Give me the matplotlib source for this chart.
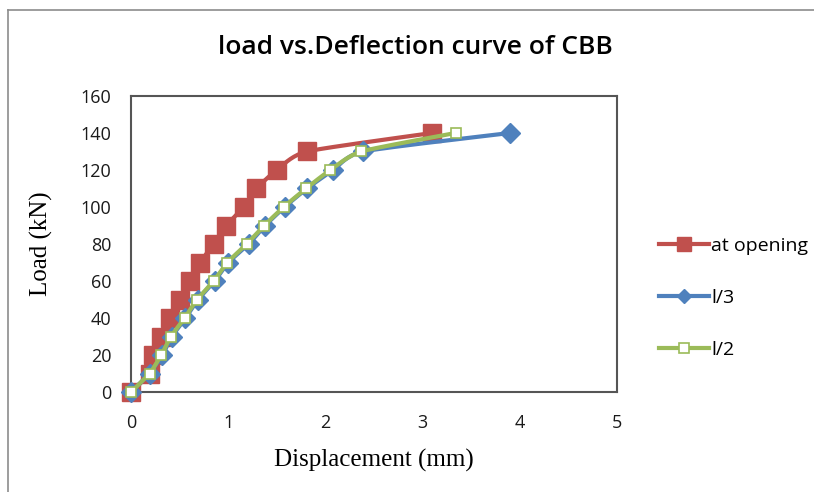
import numpy as np
import matplotlib.pyplot as plt
from matplotlib.lines import Line2D

# Data
load = [0, 10, 20, 30, 40, 50, 60, 70, 80, 90, 100, 110, 120, 130, 140]
disp_opening = [0, 0.19, 0.23, 0.31, 0.40, 0.50, 0.61, 0.71, 0.85, 0.98, 1.16, 1.29, 1.50, 1.81, 3.10]
disp_l3 = [0, 0.19, 0.32, 0.42, 0.56, 0.69, 0.86, 1.00, 1.21, 1.38, 1.58, 1.81, 2.08, 2.39, 3.90]
disp_l2 = [0, 0.19, 0.31, 0.41, 0.55, 0.68, 0.85, 0.99, 1.19, 1.37, 1.57, 1.80, 2.05, 2.37, 3.34]

red = "#C0504D"
blue = "#4F81BD"
green = "#9BBB59"


def smooth(x, y, k=0.3, n=20):
    # Hermite curve through the points, a softer Excel-style smoothed line
    p = np.column_stack([x, y]).astype(float)
    q = np.vstack([p[0], p, p[-1]])
    m = k * (q[2:] - q[:-2])
    t = np.linspace(0, 1, n)[:, None]
    h00 = 2 * t ** 3 - 3 * t ** 2 + 1
    h10 = t ** 3 - 2 * t ** 2 + t
    h01 = -2 * t ** 3 + 3 * t ** 2
    h11 = t ** 3 - t ** 2
    out = [h00 * p[i] + h10 * m[i] + h01 * p[i + 1] + h11 * m[i + 1] for i in range(len(p) - 1)]
    s = np.vstack(out)
    return s[:, 0], s[:, 1]


fig = plt.figure(figsize=(8.14, 4.92), dpi=100)
ax = fig.add_axes([0.161, 0.203, 0.597, 0.602])

# outer chart frame (left and top edges visible)
fig.add_artist(Line2D([0.010, 0.010], [0, 0.980], transform=fig.transFigure, color="#8c8c8c", lw=1.2))
fig.add_artist(Line2D([0.010, 1.0], [0.980, 0.980], transform=fig.transFigure, color="#8c8c8c", lw=1.2))

series = [
    (disp_opening, red, dict(marker="s", markersize=13, markerfacecolor=red, markeredgecolor=red), "at opening"),
    (disp_l3, blue, dict(marker="D", markersize=10, markerfacecolor=blue, markeredgecolor=blue), "l/3"),
    (disp_l2, green, dict(marker="s", markersize=7.5, markerfacecolor="white", markeredgecolor=green, markeredgewidth=1.2), "l/2"),
]
legend_mk = [dict(marker="s", markersize=10, markerfacecolor=red, markeredgecolor=red),
             dict(marker="D", markersize=7, markerfacecolor=blue, markeredgecolor=blue),
             dict(marker="s", markersize=7, markerfacecolor="white", markeredgecolor=green, markeredgewidth=1.2)]

handles = []
for i, (d, c, mk, lab) in enumerate(series):
    sx, sy = smooth(d, load)
    ax.plot(sx, sy, color=c, lw=3, solid_capstyle="round", zorder=3 + 2 * i)
    ax.plot(d, load, linestyle="none", zorder=4 + 2 * i, clip_on=False, **mk)
    handles.append(Line2D([], [], color=c, lw=3, label=lab, **legend_mk[i]))

ax.set_xlim(0, 5)
ax.set_ylim(0, 160)
ax.set_xticks(range(0, 6))
ax.set_yticks(range(0, 161, 20))
ax.tick_params(length=0, labelsize=13, colors="#1a1a1a")
ax.tick_params(axis="x", pad=16)
ax.tick_params(axis="y", pad=14)
for lbl in ax.get_xticklabels() + ax.get_yticklabels():
    lbl.set_fontfamily("Open Sans")
for sp in ax.spines.values():
    sp.set_color("#555555")
    sp.set_linewidth(1.5)

ax.set_xlabel("Displacement (mm)", family="Liberation Serif", fontsize=18, labelpad=12)
ax.set_ylabel("Load (kN)", family="Liberation Serif", fontsize=18, labelpad=20)
fig.text(0.51, 0.903, "load vs.Deflection curve of CBB", ha="center", va="center",
         family="Open Sans", fontweight="semibold", fontsize=19)

fig.legend(handles=handles, loc="center left", bbox_to_anchor=(0.788, 0.395),
           frameon=False, prop={"family": "Open Sans", "size": 14},
           handlelength=2.6, handletextpad=0.1, labelspacing=1.75)

fig.savefig("out.png", dpi=100, facecolor="white")
